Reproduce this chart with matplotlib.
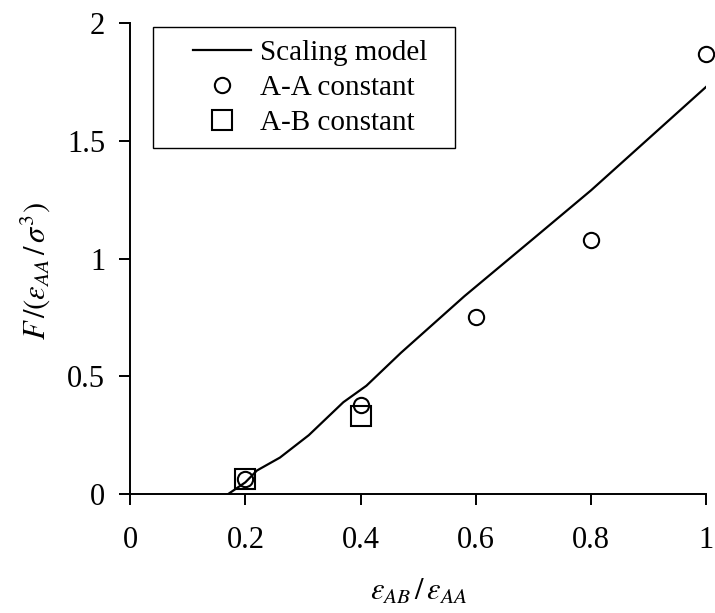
import matplotlib
matplotlib.use('Agg')
import matplotlib.pyplot as plt
from matplotlib.patches import Rectangle

plt.rcParams['font.family'] = ['Liberation Serif', 'DejaVu Serif']
plt.rcParams['mathtext.fontset'] = 'stix'

# scaling model curve
model_x = [0.17, 0.20, 0.22, 0.26, 0.31, 0.37, 0.41, 0.47, 0.58, 0.70, 0.80, 0.90, 1.00]
model_y = [0.0, 0.05, 0.10, 0.155, 0.25, 0.39, 0.46, 0.60, 0.84, 1.085, 1.29, 1.51, 1.73]

# simulation points
aa_x = [0.2, 0.4, 0.6, 0.8, 1.0]
aa_y = [0.065, 0.38, 0.75, 1.08, 1.87]
ab_x = [0.2, 0.4]
ab_y = [0.065, 0.33]

xticks = [0, 0.2, 0.4, 0.6, 0.8, 1]
xticklabels = ['0', '0.2', '0.4', '0.6', '0.8', '1']
yticks = [0, 0.5, 1, 1.5, 2]
yticklabels = ['0', '0.5', '1', '1.5', '2']

fig = plt.figure(figsize=(7.15, 6.13), dpi=100)
ax = fig.add_axes([0.182, 0.194, 0.806, 0.7685])

ax.plot(model_x, model_y, color='black', lw=1.6, label='Scaling model')
ax.plot(aa_x, aa_y, 'o', ms=11, mfc='none', mec='black', mew=1.5,
        label='A-A constant', clip_on=False, zorder=3)
ax.plot(ab_x, ab_y, 's', ms=14, mfc='none', mec='black', mew=1.5,
        label='A-B constant', clip_on=False, zorder=3)

ax.set_xlim(0, 1)
ax.set_ylim(0, 2)
ax.set_xticks(xticks)
ax.set_xticklabels(xticklabels)
ax.set_yticks(yticks)
ax.set_yticklabels(yticklabels)

for s in ['top', 'right']:
    ax.spines[s].set_visible(False)
for s in ['left', 'bottom']:
    ax.spines[s].set_linewidth(1.4)

ax.tick_params(axis='both', direction='out', length=8, width=1.4, labelsize=22)
ax.tick_params(axis='x', pad=15)
ax.tick_params(axis='y', pad=10)

ax.set_xlabel(r'$\varepsilon_{AB}\,/\,\varepsilon_{AA}$', fontsize=22)
ax.xaxis.set_label_coords(0.5, -0.178)
ax.set_ylabel(r'$F\,/(\varepsilon_{AA}\,/\,\sigma^{3})$', fontsize=22)
ax.yaxis.set_label_coords(-0.135, 0.473)

# legend without its own frame, boxed separately for wider margins
leg = ax.legend(loc='upper left', bbox_to_anchor=(0.089, 0.99), borderaxespad=0,
                fontsize=21, frameon=False, handlelength=2.0, labelspacing=0.3,
                borderpad=0.4, handletextpad=0.3)
ax.add_patch(Rectangle((0.040, 0.7346), 0.524, 0.2569, transform=ax.transAxes,
                       fill=False, edgecolor='black', lw=1.0, clip_on=False, zorder=4))

fig.savefig('out.png', dpi=100)
